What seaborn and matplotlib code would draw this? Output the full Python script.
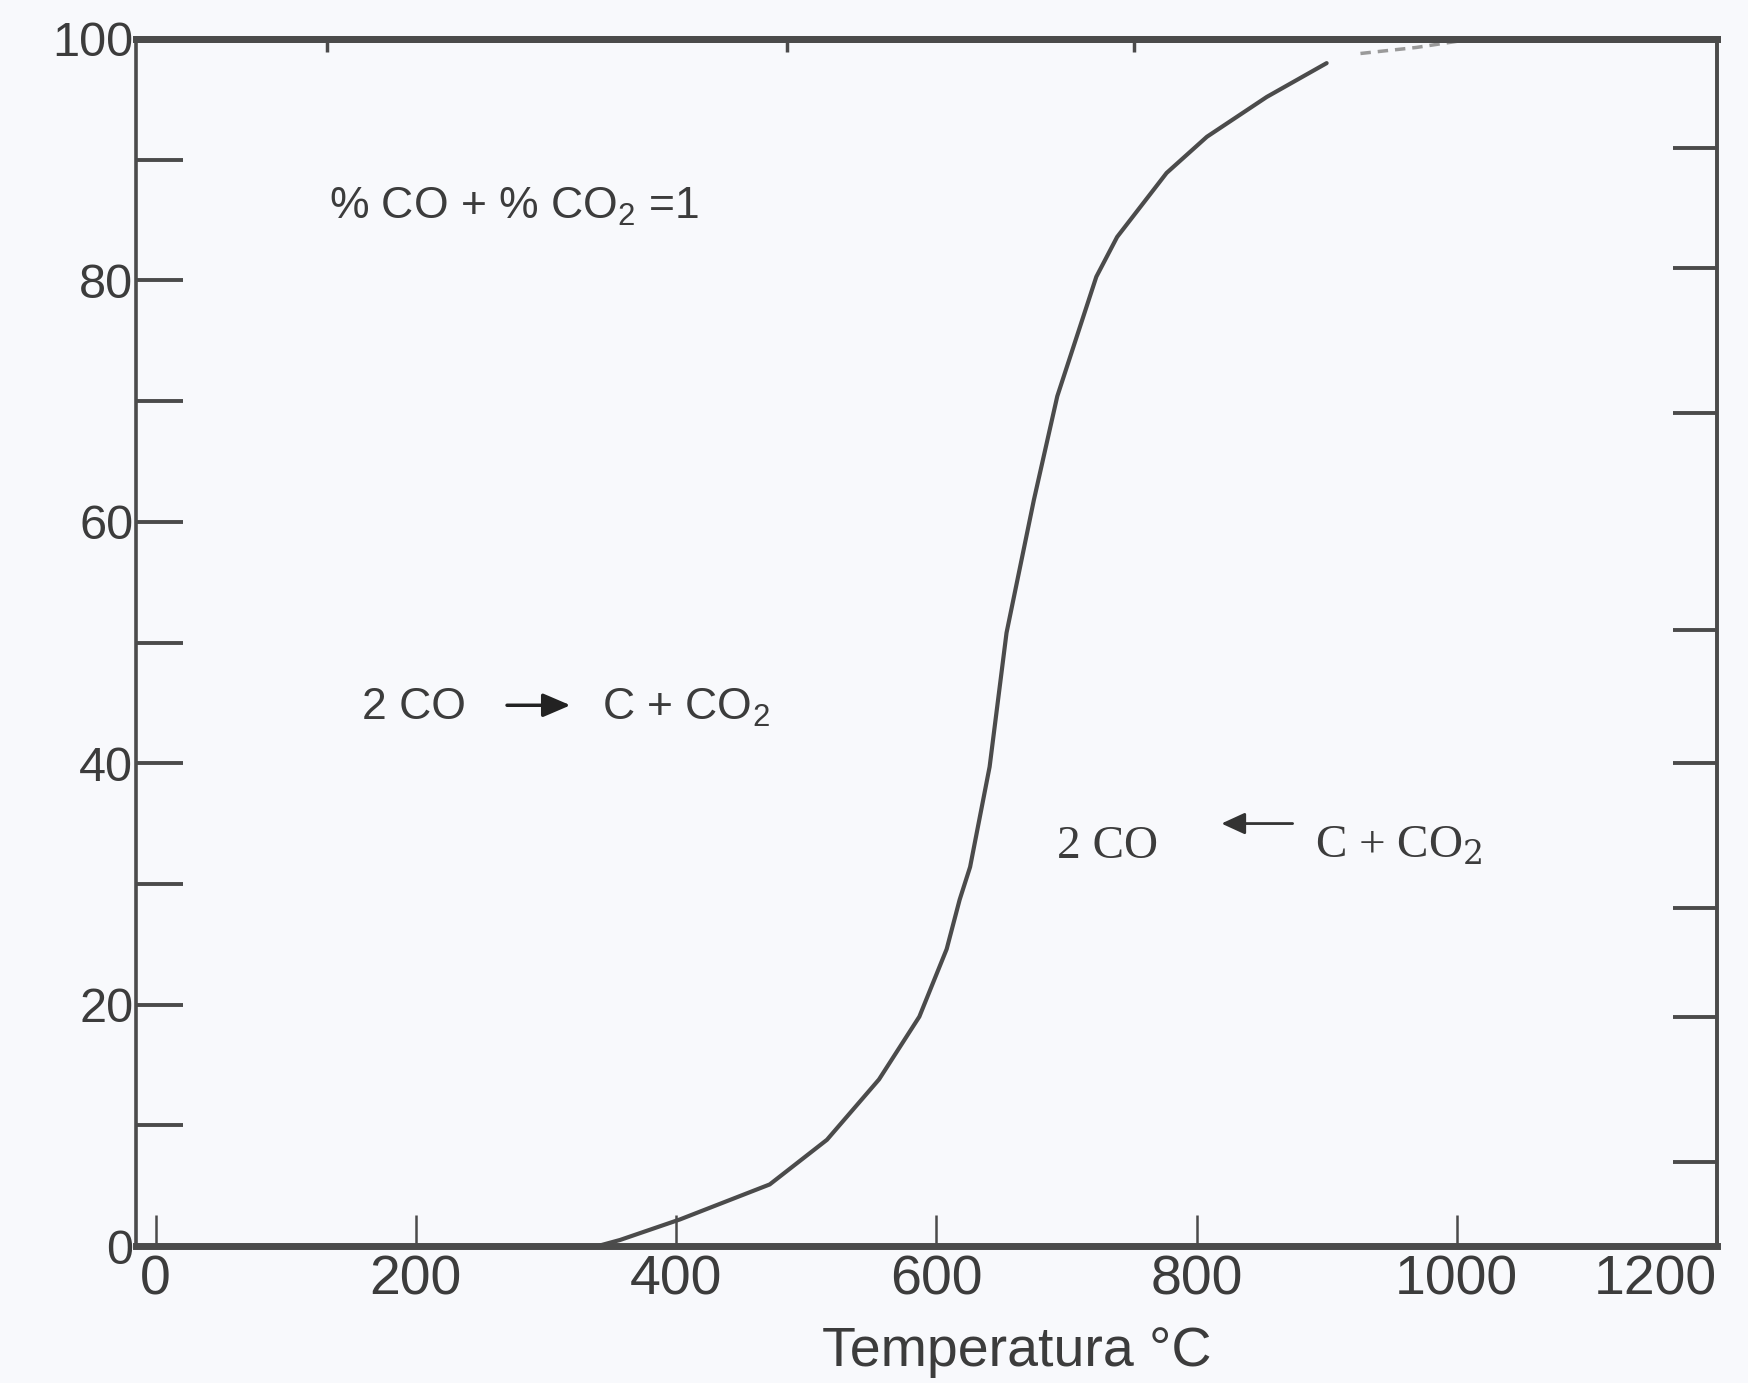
import matplotlib
matplotlib.use("Agg")
import matplotlib.pyplot as plt
import seaborn as sns
import pandas as pd

# ---- data ----
temperature = [0, 200, 340, 357, 403, 472, 516, 556, 587, 608, 618, 626, 641, 654, 675, 693, 713,
               723, 739, 777, 808, 854, 900]
co_percent = [0, 0, 0, 0.5, 2.2, 5.1, 8.8, 13.8, 19.0, 24.6, 28.7, 31.4, 39.7, 50.8, 61.8, 70.4, 77.0,
              80.3, 83.6, 88.9, 91.9, 95.2, 98.0]
tail_temperature = [926, 969, 1012]
tail_percent = [98.8, 99.3, 100.0]

x_ticks = [0, 200, 400, 600, 800, 1000, 1200]
y_major = [0, 20, 40, 60, 80, 100]
y_minor = [10, 30, 50, 70, 90]
right_ticks = [7, 19, 28, 40, 51, 69, 81, 91]
top_ticks = [132, 485, 752]

sum_label = r"% CO + % CO$_2$ =1"
reaction_left = "2 CO"
reaction_right = r"C + CO$_2$"
x_label = "Temperatura °C"

sns.set_theme(style="white")
plt.rcParams['font.family'] = ['Liberation Sans', 'DejaVu Sans']
plt.rcParams['mathtext.fontset'] = 'custom'
plt.rcParams['mathtext.rm'] = 'Liberation Sans'
plt.rcParams['mathtext.it'] = 'Liberation Sans'

ink = "#4b4b4b"
bg = "#f8f9fc"

df = pd.DataFrame({"T": temperature, "CO": co_percent})
df_tail = pd.DataFrame({"T": tail_temperature, "CO": tail_percent})

fig = plt.figure(figsize=(17.48, 13.83), dpi=100, facecolor=bg)
ax = fig.add_axes([136 / 1748, 1 - 1246 / 1383, (1717 - 136) / 1748, (1246 - 39) / 1383])
ax.set_facecolor(bg)

sns.lineplot(data=df, x="T", y="CO", ax=ax, color=ink, linewidth=3.0, sort=False,
             solid_joinstyle="round", solid_capstyle="round")
sns.lineplot(data=df_tail, x="T", y="CO", ax=ax, color="#9a9a9a", linewidth=2.5,
             sort=False, linestyle=(0, (3, 2)))

ax.set_xlim(-15, 1200)
ax.set_ylim(0, 100)
ax.set_xlabel("")
ax.set_ylabel("")

ax.set_xticks(x_ticks)
ax.set_xticklabels([str(v) for v in x_ticks])
ax.set_yticks(y_major)
ax.set_yticklabels([str(v) for v in y_major])
ax.set_yticks(y_minor, minor=True)

ax.tick_params(axis="x", which="both", bottom=True, top=False, direction="in", length=22, width=1.8,
               color=ink, labelsize=40, labelcolor="#3c3c3c", pad=6)
ax.tick_params(axis="y", which="both", left=True, right=False, direction="in", length=34, width=2.8,
               color=ink, labelsize=35, labelcolor="#3c3c3c", pad=2)
xlabels = ax.get_xticklabels()
xlabels[-1].set_horizontalalignment("right")
xlabels[-1].set_x(xlabels[-1].get_position()[0])

for side, lw in [("left", 2.6), ("right", 2.6), ("top", 5), ("bottom", 5)]:
    ax.spines[side].set_visible(True)
    ax.spines[side].set_color(ink)
    ax.spines[side].set_linewidth(lw)

sec_y = ax.secondary_yaxis("right")
sec_y.set_yticks(right_ticks)
sec_y.tick_params(right=True, direction="in", length=32, width=2.8, color=ink, labelright=False)
sec_y.spines["right"].set_color(ink)
sec_y.spines["right"].set_linewidth(2.6)

sec_x = ax.secondary_xaxis("top")
sec_x.set_xticks(top_ticks)
sec_x.tick_params(top=True, direction="in", length=9, width=2.5, color=ink, labeltop=False)
sec_x.spines["top"].set_color(ink)
sec_x.spines["top"].set_linewidth(5)

# annotations
ax.text(133, 86.1, sum_label, fontsize=32, color="#3c3c3c", va="center", ha="left")

ax.text(159, 44.6, reaction_left, fontsize=32, color="#3c3c3c", va="center", ha="left")
ax.annotate("", xy=(321, 44.8), xytext=(268, 44.8),
            arrowprops=dict(arrowstyle="-|>,head_length=1.4,head_width=0.6", color="#222222", lw=2.5))
ax.text(343, 44.6, reaction_right, fontsize=32, color="#3c3c3c", va="center", ha="left")

serif = ['Liberation Serif', 'DejaVu Serif']
ax.text(693, 33.1, reaction_left, fontsize=34, color="#3c3c3c", va="center", ha="left", family=serif)
ax.annotate("", xy=(817, 35.0), xytext=(876, 35.0),
            arrowprops=dict(arrowstyle="-|>,head_length=1.2,head_width=0.55", color="#333333", lw=2.0))
ax.text(891, 33.1, r"C + CO$_2$", fontsize=34, color="#3c3c3c", va="center", ha="left", family=serif,
        math_fontfamily="dejavuserif")

fig.text(1017 / 1748, 1 - 1352 / 1383, x_label, fontsize=40, color="#3c3c3c", ha="center", va="center")

fig.savefig("out.png", dpi=100, facecolor=bg)
